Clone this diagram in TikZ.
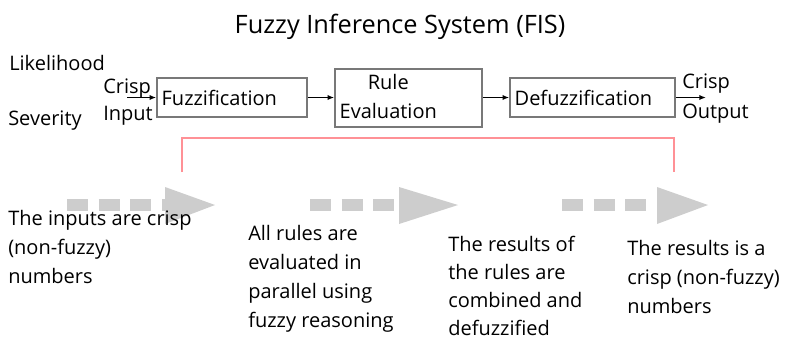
\documentclass[tikz,border=0pt]{standalone}
\usepackage{fontspec}
\setmainfont{Open Sans}
\usetikzlibrary{arrows.meta}
\definecolor{boxgray}{RGB}{120,120,120}
\definecolor{bracketred}{RGB}{255,145,150}
\definecolor{arrowgray}{RGB}{205,205,205}
\tikzset{
  stage/.style={draw=boxgray, line width=1.2pt, inner xsep=3.5pt, inner ysep=0pt, align=left, font=\fontsize{15}{21.75}\selectfont},
  flow/.style={-{Latex[length=5pt,width=4pt]}, line width=1.1pt},
  note/.style={anchor=base west, inner sep=0pt, align=left, font=\fontsize{15}{21.75}\selectfont},
  dashtail/.style={draw=arrowgray, line width=9.5pt, dash pattern=on 15.75pt off 8pt},
  bighead/.style={fill=arrowgray}
}
\begin{document}
\begin{tikzpicture}[x=0.75pt,y=0.75pt,yscale=-1,xscale=1]
\useasboundingbox (0,0) rectangle (799,344);

% Title
	\node (title) [anchor=base, inner sep=0pt, font=\fontsize{19}{23}\selectfont] at (400,33) {Fuzzy Inference System (FIS)};

% Text Node
	\node (likeli) [note] at (9,70) {Likelihood};
% Text Node
	\node (sever) [note] at (8,125) {Severity};
% Text Node (base = last line)
	\node (crispin) [note, font=\fontsize{15}{20.25}\selectfont] at (103,120) {Crisp\\Input};

%Shape: Rectangle
	\node (fuzz) [stage, text width=105.5pt, minimum height=29.25pt] at (232,97.5) {Fuzzification};
%Shape: Rectangle
	\node (rule) [stage, text width=103.25pt, minimum height=43.5pt] at (408.5,98) {\begin{tabular}{@{}c@{}}Rule\\Evaluation\end{tabular}};
%Shape: Rectangle
	\node (defuzz) [stage, text width=116.75pt, minimum height=29.25pt] at (592.5,97.5) {Defuzzification};

% Text Node
	\node (crispout) [note, font=\fontsize{15}{22.5}\selectfont] at (682,118) {Crisp\\Output};

%Straight Lines
	\coordinate (cin) at (127,97.5);
	\coordinate (cout) at (706,97.5);
	\draw [flow] (cin) -- (fuzz.west);
	\draw [flow] (fuzz.east) -- (rule.west |- fuzz.east);
	\draw [flow] (rule.east |- defuzz.west) -- (defuzz.west);
	\draw [flow] (defuzz.east) -- (cout);

%Bracket
	\coordinate (brl) at (182,172);
	\coordinate (brr) at (674,172);
	\draw [bracketred, line width=1.5pt] (brl) -- ++(0,-34) -| (brr);

%Gray arrows
	\draw [dashtail] (67,205) -- (172,205);
	\fill [bighead] (165,187) -- (215,205) -- (165,224) -- cycle;
	\draw [dashtail] (310,205) -- (405,205);
	\fill [bighead] (399,187) -- (458,205) -- (399,224) -- cycle;
	\draw [dashtail] (562,205) -- (665,205);
	\fill [bighead] (657,187) -- (708,205) -- (657,224) -- cycle;

% Text Node (base = last line)
	\node (note1) [note] at (8,283) {The inputs are crisp\\(non-fuzzy)\\numbers};
% Text Node
	\node (note2) [note] at (248,327) {All rules are\\evaluated in\\parallel using\\fuzzy reasoning};
% Text Node
	\node (note3) [note, font=\fontsize{15}{21}\selectfont] at (448,335) {The results of\\the rules are\\combined and\\defuzzified};
% Text Node
	\node (note4) [note] at (627,313) {The results is a\\crisp (non-fuzzy)\\numbers};

\end{tikzpicture}
\end{document}
